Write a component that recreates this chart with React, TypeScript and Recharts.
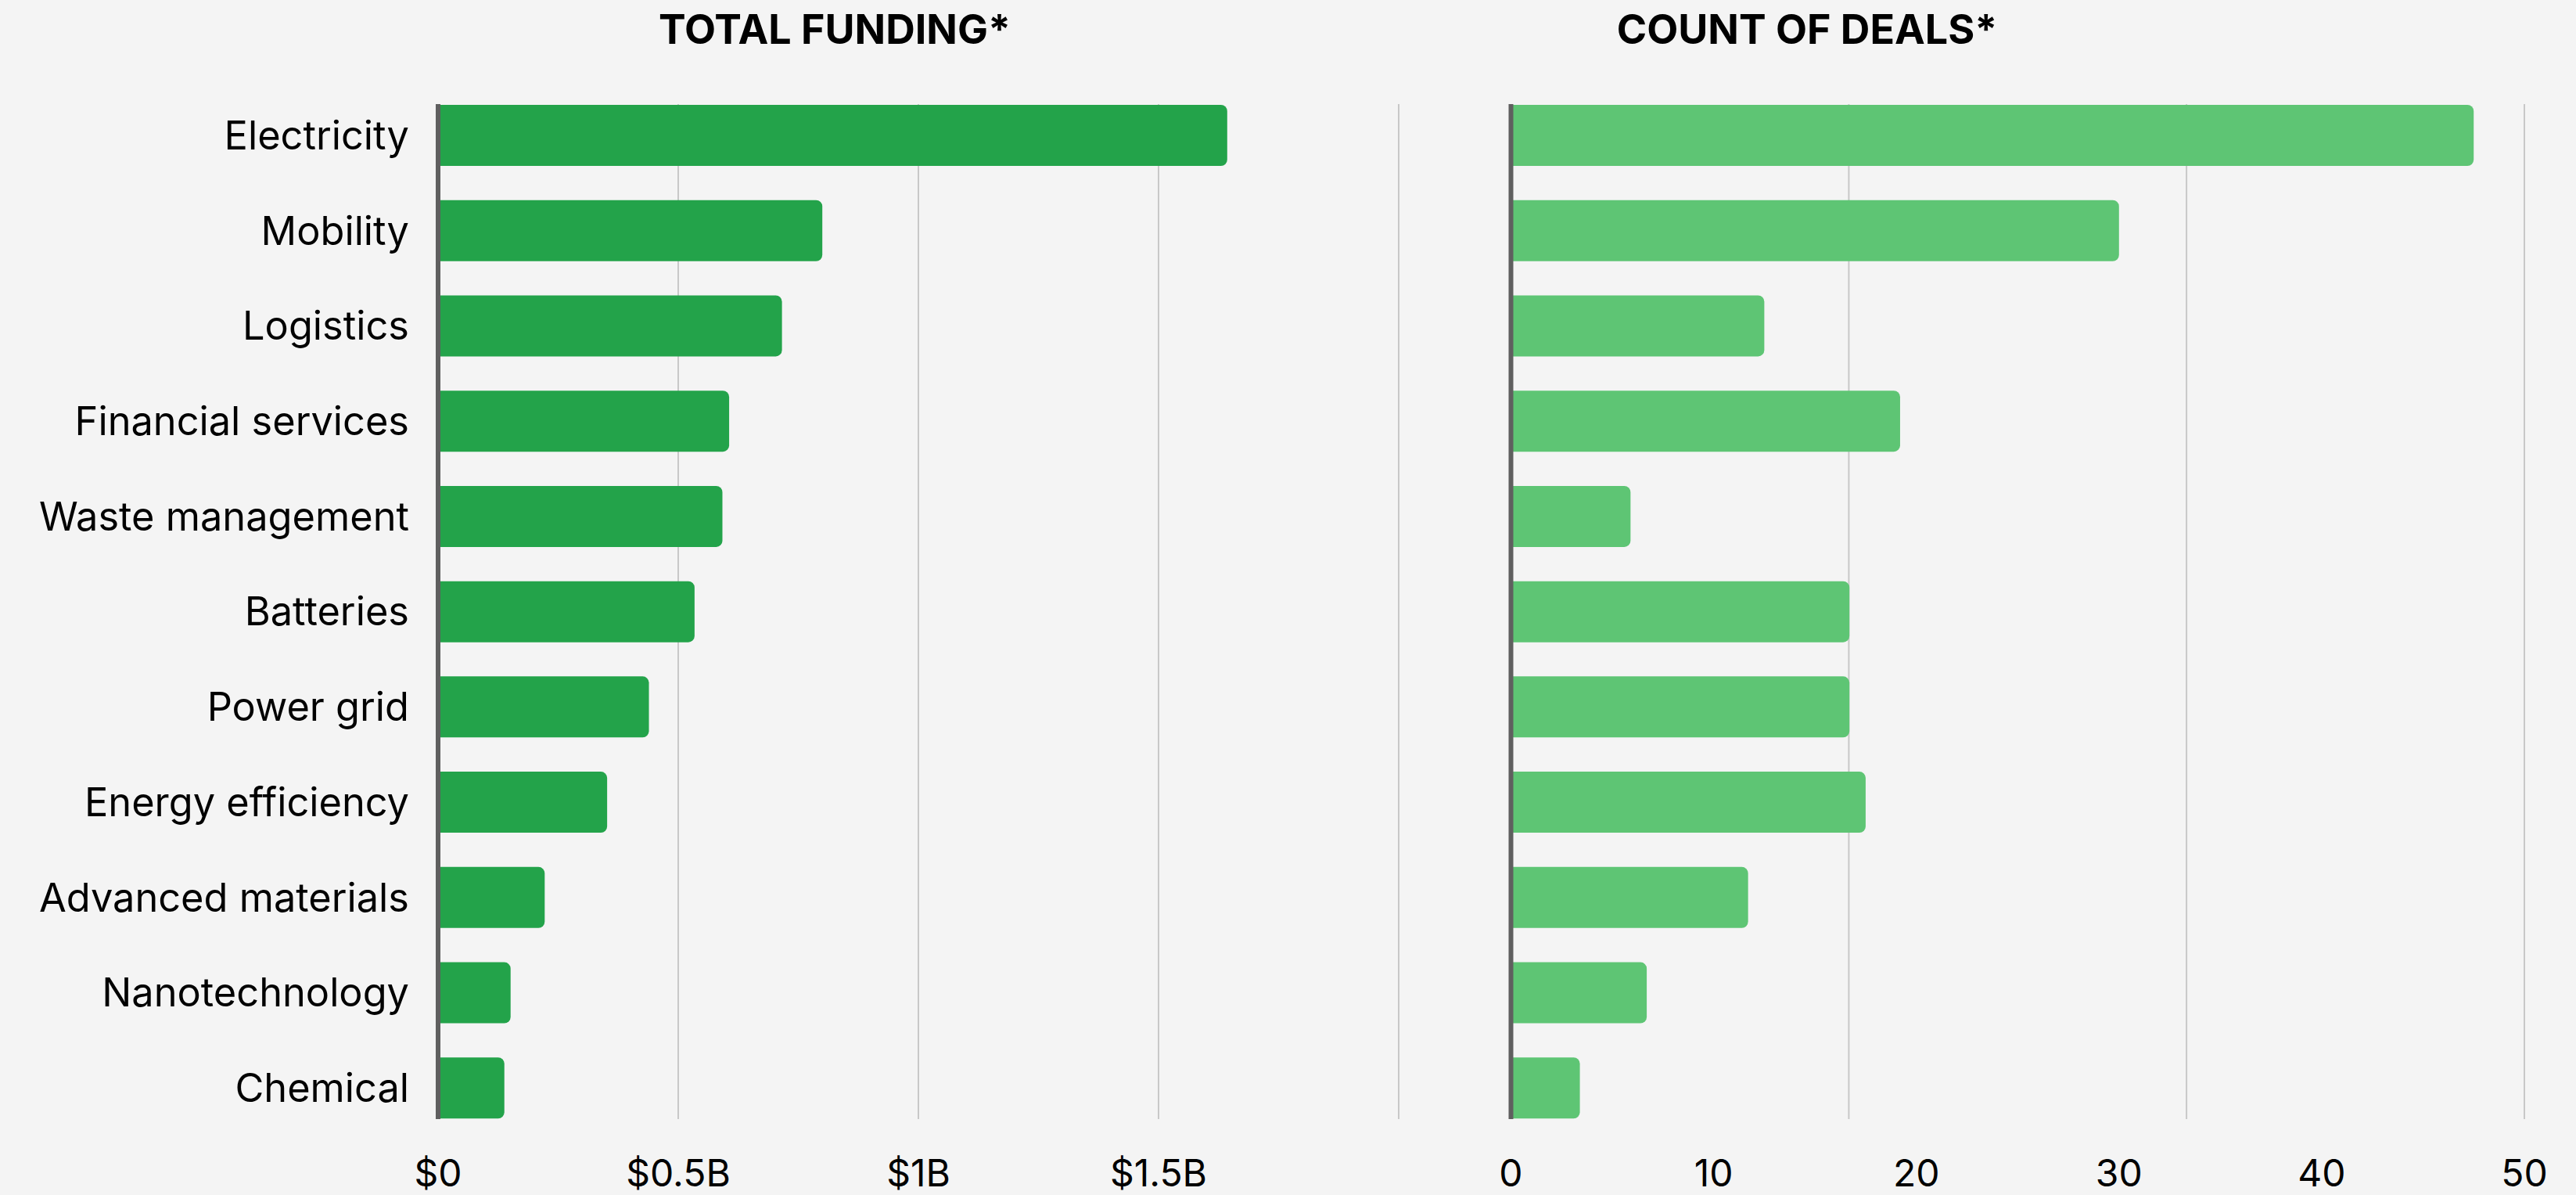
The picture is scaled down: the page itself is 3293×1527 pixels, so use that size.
import React from 'react';
import { BarChart, Bar, XAxis, YAxis, CartesianGrid } from 'recharts';

const categories = [
  'Electricity',
  'Mobility',
  'Logistics',
  'Financial services',
  'Waste management',
  'Batteries',
  'Power grid',
  'Energy efficiency',
  'Advanced materials',
  'Nanotechnology',
  'Chemical',
];

// total funding, in $ billions
const fundingValues = [1.643, 0.8, 0.716, 0.606, 0.592, 0.534, 0.439, 0.352, 0.222, 0.151, 0.138];
// count of deals, read against the printed 0-50 axis
const dealValues = [47.5, 30, 12.5, 19.2, 5.9, 16.7, 16.7, 17.5, 11.7, 6.7, 3.4];

const fundingTicks = [0, 0.5, 1, 1.5, 2];
const fundingTickLabels = ['$0', '$0.5B', '$1B', '$1.5B', ''];
const dealTicks = [0, 10, 20, 30, 40, 50];
const dealGridTicks = [0, 16.67, 33.33, 50];

const data = categories.map((name, i) => ({
  name,
  funding: fundingValues[i],
  deals: dealValues[i],
}));

const FONT = 'Inter, "DejaVu Sans", sans-serif';
const BG = '#f4f4f4';
const tickStyle = { fontFamily: FONT, fontSize: 48, fill: '#000' };
const catStyle = { fontFamily: FONT, fontSize: 50.5, fill: '#000' };

// grid lines for the deals chart sit at thirds of the axis, not on the labelled ticks
const dealGrid = ({ xAxis, offset }: any) =>
  dealGridTicks.map((v) =>
    xAxis && typeof xAxis.scale === 'function'
      ? xAxis.scale(v)
      : offset.left + (v / 50) * offset.width
  );

const App: React.FC = () => {
  return (
    <div
      style={{
        position: 'fixed',
        left: 0,
        top: 0,
        width: 3293,
        height: 1527,
        background: BG,
        overflow: 'hidden',
      }}
    >
      <svg width={3293} height={120} style={{ position: 'absolute', left: 0, top: 0 }}>
        <text x={1067} y={56} textAnchor="middle" fontFamily={FONT} fontWeight={700} fontSize={52} fill="#000">
          TOTAL FUNDING*
        </text>
        <text x={2310} y={56} textAnchor="middle" fontFamily={FONT} fontWeight={700} fontSize={52} fill="#000">
          COUNT OF DEALS*
        </text>
      </svg>

      <div style={{ position: 'absolute', left: 0, top: 0 }}>
        <BarChart
          width={1820}
          height={1527}
          data={data}
          layout="vertical"
          margin={{ top: 133, right: 32, bottom: 0, left: 0 }}
        >
          <CartesianGrid horizontal={false} stroke="#c8c8c8" strokeWidth={2} />
          <XAxis
            type="number"
            domain={[0, 2]}
            ticks={fundingTicks}
            tickFormatter={(v: number) => fundingTickLabels[fundingTicks.indexOf(v)] ?? ''}
            axisLine={false}
            tickLine={false}
            tickSize={0}
            tickMargin={52}
            height={97}
            tick={tickStyle}
            interval={0}
          />
          <YAxis
            type="category"
            dataKey="name"
            width={560}
            axisLine={{ stroke: '#5f5f5f', strokeWidth: 6 }}
            tickLine={false}
            tickSize={0}
            tickMargin={37}
            tick={catStyle}
            interval={0}
            padding={{ top: -21, bottom: -21 }}
          />
          <Bar dataKey="funding" fill="#23a34a" barSize={78} radius={[0, 8, 8, 0]} isAnimationActive={false} />
        </BarChart>
      </div>

      <div style={{ position: 'absolute', left: 1900, top: 0 }}>
        <BarChart
          width={1393}
          height={1527}
          data={data}
          layout="vertical"
          margin={{ top: 133, right: 66, bottom: 0, left: 0 }}
        >
          <CartesianGrid
            horizontal={false}
            stroke="#c8c8c8"
            strokeWidth={2}
            verticalCoordinatesGenerator={dealGrid}
          />
          <XAxis
            type="number"
            domain={[0, 50]}
            ticks={dealTicks}
            axisLine={false}
            tickLine={false}
            tickSize={0}
            tickMargin={52}
            height={97}
            tick={tickStyle}
            interval={0}
          />
          <YAxis
            type="category"
            dataKey="name"
            width={31.5}
            axisLine={{ stroke: '#5f5f5f', strokeWidth: 6 }}
            tickLine={false}
            tick={false}
            interval={0}
            padding={{ top: -21, bottom: -21 }}
          />
          <Bar dataKey="deals" fill="#5ec574" barSize={78} radius={[0, 8, 8, 0]} isAnimationActive={false} />
        </BarChart>
      </div>
    </div>
  );
};

export default App;
